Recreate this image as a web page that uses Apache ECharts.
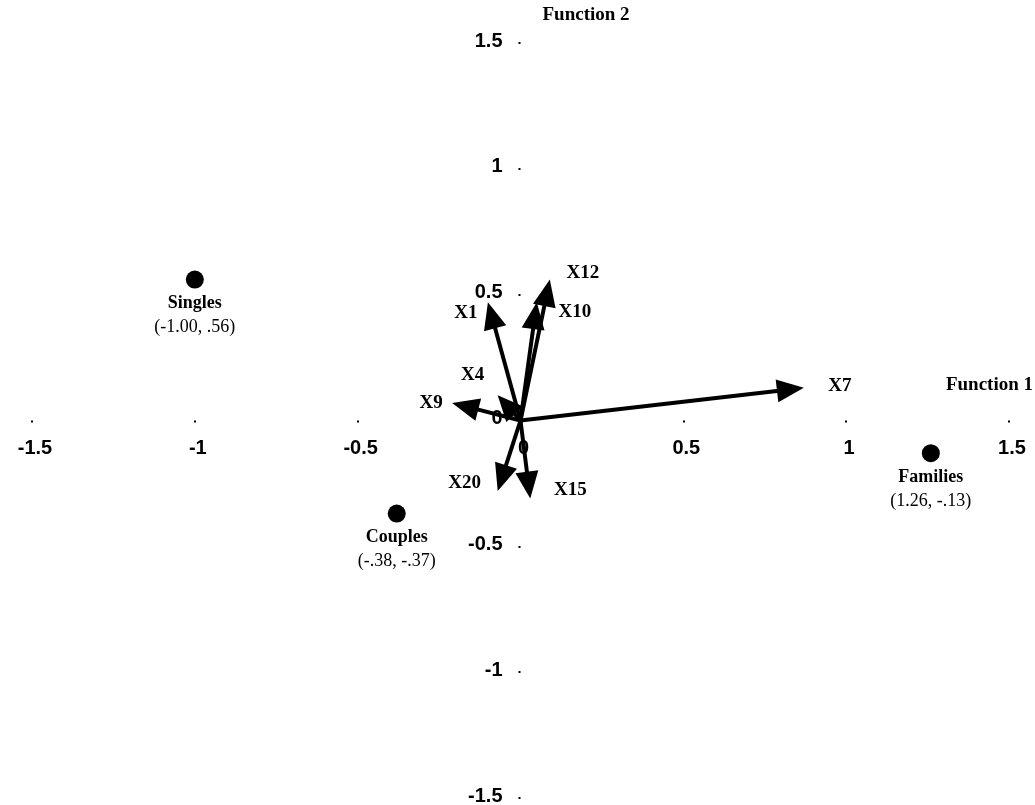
<!DOCTYPE html>
<html>
<head>
<meta charset="utf-8">
<title>Discriminant functions: group centroids and variable loadings</title>
<script src="https://cdn.jsdelivr.net/npm/echarts@6/dist/echarts.min.js"></script>
<style>
  html, body { margin: 0; padding: 0; background: #fff; }
  #chart { width: 1035px; height: 805px; }
</style>
</head>
<body>
<div id="chart"></div>
<script>
// Variable loadings on the two discriminant functions (drawn as arrows)
const vectorNames = ['X1', 'X4', 'X7', 'X9', 'X10', 'X12', 'X15', 'X20'];
const vectorX = [-0.10, -0.07, 0.87, -0.21, 0.05, 0.09, 0.03, -0.07];
const vectorY = [0.47, 0.10, 0.13, 0.07, 0.47, 0.56, -0.31, -0.28];

// Group centroids
const groupNames = ['Singles', 'Couples', 'Families'];
const groupX = [-1.00, -0.38, 1.26];
const groupY = [0.56, -0.37, -0.13];

// Axis range and tick values (tick labels sit on the axes crossing at the origin)
const axisMin = -1.5;
const axisMax = 1.5;
const axisStep = 0.5;
const tickValues = [-1.5, -1, -0.5, 0, 0.5, 1, 1.5];
const tickLabels = ['-1.5', '-1', '-0.5', '0', '0.5', '1', '1.5'];

// Label placement for each arrow, in pixels from the arrow tip
const vectorLabelOffset = {
  X1: [-22, 11], X4: [-25, -20], X7: [36, -2], X9: [-21, 0],
  X10: [38, 10], X12: [33, -6], X15: [40, -8], X20: [-33, -8]
};

const SERIF = '"Liberation Serif", "Times New Roman", serif';
const SANS = '"Liberation Sans", Arial, sans-serif';
const HEAD_LEN = 27;
const HEAD_HALF = 11.5;

// ".56" style for values below one, "-1.00" otherwise
const fmt = v => v.toFixed(2).replace(/^(-?)0\./, '$1.');

const chart = echarts.init(document.getElementById('chart'), null, { renderer: 'canvas' });

function axisCommon() {
  return {
    type: 'value',
    min: axisMin,
    max: axisMax,
    interval: axisStep,
    splitLine: { show: false },
    axisLine: { show: true, onZero: true, lineStyle: { color: '#000', opacity: 0 } },
    axisTick: { show: true, length: 2, lineStyle: { color: '#000', width: 2 } },
    axisLabel: { show: false }
  };
}

const xAxis = axisCommon();
xAxis.name = 'Function 1';
xAxis.nameLocation = 'end';
xAxis.nameGap = 24;
xAxis.nameTextStyle = {
  color: '#000', fontFamily: SERIF, fontWeight: 'bold', fontSize: 19,
  align: 'right', verticalAlign: 'bottom', padding: [0, 0, 26, 0]
};

const yAxis = axisCommon();
yAxis.name = 'Function 2';
yAxis.nameLocation = 'end';
yAxis.nameGap = 18;
yAxis.nameTextStyle = {
  color: '#000', fontFamily: SERIF, fontWeight: 'bold', fontSize: 19,
  align: 'left', verticalAlign: 'bottom', padding: [0, 0, 0, 22]
};

const tickLabelStyle = {
  show: true,
  color: '#000',
  fontFamily: SANS,
  fontWeight: 'bold',
  fontSize: 20
};

chart.setOption({
  animation: false,
  backgroundColor: '#fff',
  grid: { left: 32, right: 26, top: 43, bottom: 7, outerBoundsMode: 'none', containLabel: false },
  xAxis: xAxis,
  yAxis: yAxis,
  series: [
    {
      // tick labels along the horizontal axis
      type: 'scatter',
      silent: true,
      symbolSize: 0,
      itemStyle: { opacity: 1 },
      data: tickValues.map(v => [v, 0]),
      label: Object.assign({}, tickLabelStyle, {
        position: 'bottom', distance: 18, offset: [3, 0],
        formatter: p => tickLabels[p.dataIndex]
      })
    },
    {
      // tick labels along the vertical axis
      type: 'scatter',
      silent: true,
      symbolSize: 0,
      itemStyle: { opacity: 1 },
      data: tickValues.map(v => [0, v]),
      label: Object.assign({}, tickLabelStyle, {
        position: 'left', distance: 18, offset: [0, -2],
        formatter: p => tickLabels[p.dataIndex]
      })
    },
    {
      // loading arrows drawn from the origin
      type: 'custom',
      coordinateSystem: 'cartesian2d',
      data: vectorX.map((x, i) => [x, vectorY[i]]),
      encode: { x: 0, y: 1 },
      z: 3,
      renderItem: function (params, api) {
        const o = api.coord([0, 0]);
        const t = api.coord([api.value(0), api.value(1)]);
        const dx = t[0] - o[0], dy = t[1] - o[1];
        const len = Math.hypot(dx, dy) || 1;
        const ux = dx / len, uy = dy / len;
        const hl = Math.min(HEAD_LEN, len * 0.75);
        const hw = HEAD_HALF;
        const bx = t[0] - ux * hl, by = t[1] - uy * hl;
        const name = vectorNames[params.dataIndex];
        const off = vectorLabelOffset[name] || [0, 0];
        return {
          type: 'group',
          children: [
            {
              type: 'line',
              shape: { x1: o[0], y1: o[1], x2: bx + ux * 2, y2: by + uy * 2 },
              style: { stroke: '#000', lineWidth: 4 }
            },
            {
              type: 'polygon',
              shape: {
                points: [
                  [t[0], t[1]],
                  [bx - uy * hw, by + ux * hw],
                  [bx + uy * hw, by - ux * hw]
                ]
              },
              style: { fill: '#000' }
            },
            {
              type: 'text',
              x: t[0] + off[0],
              y: t[1] + off[1],
              style: {
                text: name,
                fill: '#000',
                font: 'bold 19px ' + SERIF,
                align: 'center',
                verticalAlign: 'middle'
              }
            }
          ]
        };
      }
    },
    {
      // group centroids with name and coordinates underneath
      type: 'scatter',
      data: groupX.map((x, i) => ({ name: groupNames[i], value: [x, groupY[i]] })),
      symbol: 'circle',
      symbolSize: 18,
      itemStyle: { color: '#000', opacity: 1 },
      z: 4,
      label: {
        show: true,
        position: 'bottom',
        distance: 3,
        align: 'center',
        formatter: p => '{n|' + p.name + '}\n{c|(' + fmt(p.value[0]) + ', ' + fmt(p.value[1]) + ')}',
        rich: {
          n: { fontFamily: SERIF, fontWeight: 'bold', fontSize: 18, color: '#000', lineHeight: 24 },
          c: { fontFamily: SERIF, fontSize: 18, color: '#000', lineHeight: 24 }
        }
      }
    }
  ]
});
</script>
</body>
</html>
